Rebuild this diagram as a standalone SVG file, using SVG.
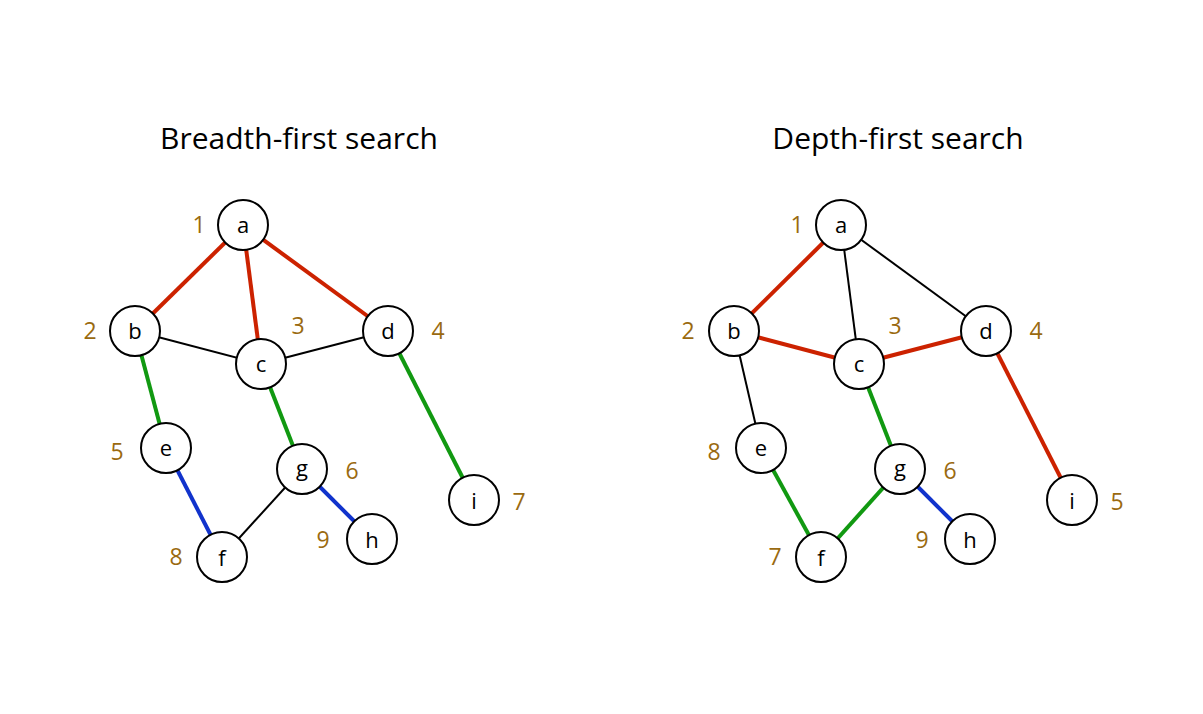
<svg xmlns="http://www.w3.org/2000/svg" width="1203" height="714" viewBox="0 0 1203 714">
<style>
text{font-family:"Open Sans","Noto Sans",sans-serif}
.t{font-size:30px;text-anchor:middle;fill:#000}
.n circle{fill:#fff;stroke:#000;stroke-width:2}
.n text{font-size:22px;text-anchor:middle;dominant-baseline:central;fill:#000}
.l{font-size:23px;text-anchor:middle;dominant-baseline:central;fill:#9a6a10}
.k{stroke:#000;stroke-width:2}
.r{stroke:#cc2200;stroke-width:4}
.g{stroke:#119911;stroke-width:4}
.b{stroke:#1133cc;stroke-width:4}
</style>
<rect width="1203" height="714" fill="#fff"/>
<text class="t" x="299" y="149">Breadth-first search</text>
<text class="t" x="898" y="149">Depth-first search</text>
<g id="connectors">
<line class="r" x1="243" y1="225" x2="135" y2="331"/>
<line class="r" x1="243" y1="225" x2="261" y2="364"/>
<line class="r" x1="243" y1="225" x2="388" y2="331"/>
<line class="k" x1="135" y1="331" x2="261" y2="364"/>
<line class="k" x1="261" y1="364" x2="388" y2="331"/>
<line class="g" x1="135" y1="331" x2="166" y2="448"/>
<line class="g" x1="261" y1="364" x2="302" y2="469"/>
<line class="g" x1="388" y1="331" x2="474" y2="500"/>
<line class="b" x1="166" y1="448" x2="222" y2="557"/>
<line class="b" x1="302" y1="469" x2="372" y2="539"/>
<line class="k" x1="302" y1="469" x2="222" y2="557"/>
<line class="r" x1="841" y1="225" x2="734" y2="331"/>
<line class="k" x1="841" y1="225" x2="859" y2="364"/>
<line class="k" x1="841" y1="225" x2="986" y2="331"/>
<line class="r" x1="734" y1="331" x2="859" y2="364"/>
<line class="r" x1="859" y1="364" x2="986" y2="331"/>
<line class="r" x1="986" y1="331" x2="1072" y2="500"/>
<line class="k" x1="734" y1="331" x2="761" y2="448"/>
<line class="g" x1="761" y1="448" x2="821" y2="557"/>
<line class="g" x1="900" y1="469" x2="821" y2="557"/>
<line class="g" x1="859" y1="364" x2="900" y2="469"/>
<line class="b" x1="900" y1="469" x2="970" y2="539"/>
</g>
<g id="L-a" class="n"><circle cx="243" cy="225" r="25"/><text x="243" y="224">a</text></g>
<g id="L-b" class="n"><circle cx="135" cy="331" r="25"/><text x="135" y="330">b</text></g>
<g id="L-c" class="n"><circle cx="261" cy="364" r="25"/><text x="261" y="363">c</text></g>
<g id="L-d" class="n"><circle cx="388" cy="331" r="25"/><text x="388" y="330">d</text></g>
<g id="L-e" class="n"><circle cx="166" cy="448" r="25"/><text x="166" y="447">e</text></g>
<g id="L-g" class="n"><circle cx="302" cy="469" r="25"/><text x="302" y="467">g</text></g>
<g id="L-i" class="n"><circle cx="474" cy="500" r="25"/><text x="474" y="500">i</text></g>
<g id="L-f" class="n"><circle cx="222" cy="557" r="25"/><text x="222" y="557">f</text></g>
<g id="L-h" class="n"><circle cx="372" cy="539" r="25"/><text x="372" y="539">h</text></g>
<g id="R-a" class="n"><circle cx="841" cy="225" r="25"/><text x="841" y="224">a</text></g>
<g id="R-b" class="n"><circle cx="734" cy="331" r="25"/><text x="734" y="330">b</text></g>
<g id="R-c" class="n"><circle cx="859" cy="364" r="25"/><text x="859" y="363">c</text></g>
<g id="R-d" class="n"><circle cx="986" cy="331" r="25"/><text x="986" y="330">d</text></g>
<g id="R-e" class="n"><circle cx="761" cy="448" r="25"/><text x="761" y="447">e</text></g>
<g id="R-g" class="n"><circle cx="900" cy="469" r="25"/><text x="900" y="467">g</text></g>
<g id="R-i" class="n"><circle cx="1072" cy="500" r="25"/><text x="1072" y="500">i</text></g>
<g id="R-f" class="n"><circle cx="821" cy="557" r="25"/><text x="821" y="557">f</text></g>
<g id="R-h" class="n"><circle cx="970" cy="539" r="25"/><text x="970" y="539">h</text></g>
<g id="labels">
<text class="l" x="199" y="224">1</text><text class="l" x="90" y="330">2</text><text class="l" x="298" y="325">3</text>
<text class="l" x="438" y="330">4</text><text class="l" x="117" y="451">5</text><text class="l" x="352" y="470">6</text>
<text class="l" x="519" y="501">7</text><text class="l" x="176" y="556">8</text><text class="l" x="323" y="539">9</text>
<text class="l" x="797" y="224">1</text><text class="l" x="688" y="330">2</text><text class="l" x="895" y="325">3</text>
<text class="l" x="1036" y="330">4</text><text class="l" x="714" y="451">8</text><text class="l" x="950" y="470">6</text>
<text class="l" x="1117" y="501">5</text><text class="l" x="775" y="556">7</text><text class="l" x="922" y="539">9</text>
</g>
</svg>
